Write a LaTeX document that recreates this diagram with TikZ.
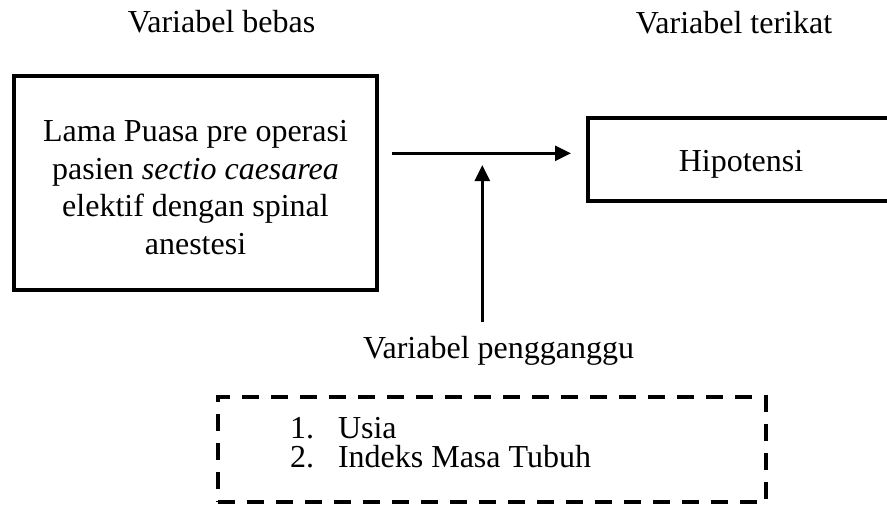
\documentclass[tikz,border=0pt]{standalone}
\usepackage{fontspec}
\setmainfont{Liberation Serif}
\usetikzlibrary{arrows.meta}
\begin{document}
\begin{tikzpicture}[x=1pt,y=-1pt,
  txt/.style={font=\fontsize{32}{37.7}\selectfont, inner sep=0pt, outer sep=0pt},
  solidbox/.style={draw, line width=3.6pt, inner sep=0pt, outer sep=0pt},
  dashbox/.style={draw, line width=3.6pt, dash pattern=on 17pt off 12pt, inner sep=0pt, outer sep=0pt},
  arr/.style={line width=2.6pt, -{Triangle[length=16pt,width=15pt]}}]
\useasboundingbox (0,0) rectangle (887,504);

% headings
\node[txt, anchor=base] (hbebas) at (221.5,32) {Variabel bebas};
\node[txt, anchor=base] (hterikat) at (734,33) {Variabel terikat};

% independent variable box
\node[solidbox, minimum width=363pt, minimum height=214pt] (lama) at (195.5,183) {};
\node[txt, align=center] (lamatxt) at ([yshift=-4.5pt]lama.center)
  {Lama Puasa pre operasi\\pasien \textit{sectio caesarea}\\elektif dengan spinal\\anestesi};

% dependent variable box
\node[solidbox, minimum width=306pt, minimum height=83pt] (hip) at (741,159.5) {};
\node[txt, anchor=base] (hiptxt) at (741,171.5) {Hipotensi};

% horizontal arrow
\coordinate (hs) at (392,153.3);
\draw[arr, shorten >=17pt] (hs) -- (hs -| hip.west);

% vertical arrow
\coordinate (vb) at (482.3,322);
\coordinate (vt) at (482.3,165);
\draw[arr] (vb) -- (vt);

% confounding label
\node[txt, anchor=base west] (hpeng) at (363,358) {Variabel pengganggu};

% confounding box
\node[dashbox, minimum width=548pt, minimum height=105pt] (conf) at (492,449.5) {};
\node[txt, anchor=base west] (l1) at (290,438) {\makebox[48pt][l]{1.}Usia};
\node[txt, anchor=base west] (l2) at (290,467) {\makebox[48pt][l]{2.}Indeks Masa Tubuh};
\end{tikzpicture}
\end{document}
